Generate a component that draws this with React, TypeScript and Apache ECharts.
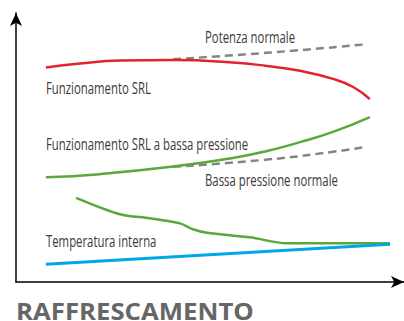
import React, { useEffect, useRef } from "react";
import * as echarts from "echarts";

const redX = [7.7, 16.5, 26.8, 40.5, 55.9, 64.7, 73.2, 81.7, 86.9, 91.2];
const redY = [79.7, 81.2, 82.3, 82.5, 81.6, 80.3, 78.5, 75.5, 72.5, 68.0];
const potenzaX = [40.5, 65.5, 90.5];
const potenzaY = [82.8, 85.3, 88.4];
const greenHighX = [7.7, 21.6, 40.5, 55.9, 64.7, 73.2, 81.7, 91.2];
const greenHighY = [38.9, 40.1, 42.9, 46.1, 48.7, 52.0, 55.8, 61.3];
const bassaX = [40.5, 64.7, 81.7, 90.5];
const bassaY = [42.8, 45.5, 48.4, 50.3];
const greenLowX = [15.5, 26.8, 34.5, 42.3, 45.6, 49.2, 60.3, 69.8, 96.4];
const greenLowY = [31.3, 25.2, 23.7, 21.8, 19.6, 18.3, 16.6, 14.4, 14.4];
const blueX = [7.7, 96.4];
const blueY = [6.6, 14.0];

const labels = [
  "Potenza normale",
  "Funzionamento SRL",
  "Funzionamento SRL a bassa pressione",
  "Bassa pressione normale",
  "Temperatura interna",
];
const title = "RAFFRESCAMENTO";

const zip = (xs: number[], ys: number[]) => xs.map((x, i) => [x, ys[i]]);

export default function App() {
  const ref = useRef<HTMLDivElement>(null);
  useEffect(() => {
    if (!ref.current) return;
    const chart = echarts.init(ref.current, null, { renderer: "svg" });
    const font = "'Open Sans', sans-serif";
    const textColor = "#3a3a3a";
    const labelPos = [
      [205, 37],
      [46, 88],
      [46, 144],
      [205, 180],
      [46, 241],
    ];
    chart.setOption({
      animation: false,
      grid: { left: 16, right: 0, top: 13, bottom: 39 },
      xAxis: {
        type: "value",
        min: 0,
        max: 100,
        axisLine: { show: true, symbol: ["none", "arrow"], symbolSize: [9, 13], lineStyle: { color: "#000", width: 1.5 } },
        axisTick: { show: false },
        axisLabel: { show: false },
        splitLine: { show: false },
      },
      yAxis: {
        type: "value",
        min: 0,
        max: 100,
        axisLine: { show: true, symbol: ["none", "arrow"], symbolSize: [9, 13], lineStyle: { color: "#000", width: 1.5 } },
        axisTick: { show: false },
        axisLabel: { show: false },
        splitLine: { show: false },
      },
      series: [
        { type: "line", data: zip(potenzaX, potenzaY), smooth: true, symbol: "none", lineStyle: { color: "#858585", width: 2.5, type: [8, 5] } },
        { type: "line", data: zip(bassaX, bassaY), smooth: true, symbol: "none", lineStyle: { color: "#858585", width: 2.5, type: [8, 5] } },
        { type: "line", data: zip(redX, redY), smooth: true, symbol: "none", lineStyle: { color: "#e3232b", width: 2.5 } },
        { type: "line", data: zip(greenHighX, greenHighY), smooth: true, symbol: "none", lineStyle: { color: "#5aa83a", width: 2.5 } },
        { type: "line", data: zip(greenLowX, greenLowY), smooth: 0.3, symbol: "none", lineStyle: { color: "#5aa83a", width: 2.5 } },
        { type: "line", data: zip(blueX, blueY), symbol: "none", lineStyle: { color: "#00a7e6", width: 3 } },
      ],
      graphic: [
        ...labels.map((t, i) => ({
          type: "text",
          x: labelPos[i][0],
          y: labelPos[i][1],
          scaleX: 0.71,
          style: { text: t, font: `16px ${font}`, fill: textColor, textVerticalAlign: "middle" },
        })),
        {
          type: "text",
          x: 16,
          y: 311.5,
          scaleX: 1.12,
          style: { text: title, font: `bold 23px 'Open Sans', sans-serif`, fill: "#666", textVerticalAlign: "middle" },
        },
      ],
    });
    return () => chart.dispose();
  }, []);
  return <div ref={ref} style={{ width: 404, height: 321, position: "absolute", left: 0, top: 0 }} />;
}
